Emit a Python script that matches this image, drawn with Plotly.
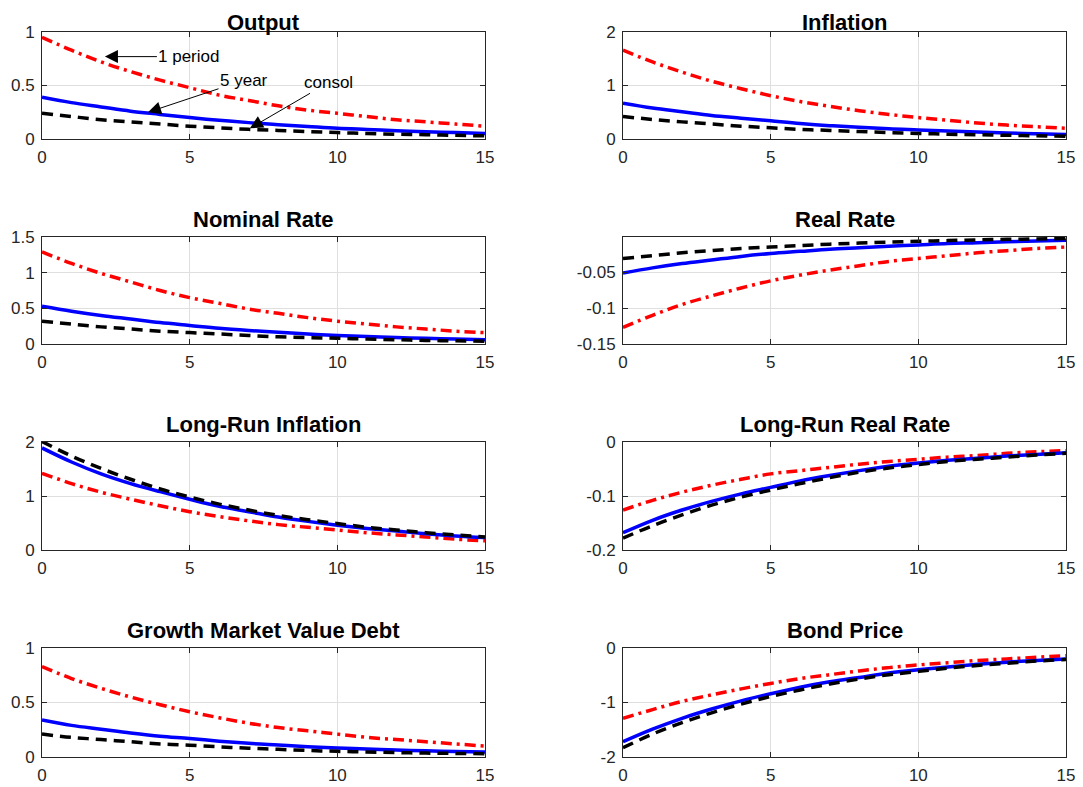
import plotly.graph_objects as go

t = list(range(16))

# Output
output_1p = [0.95, 0.83, 0.72, 0.63, 0.55, 0.48, 0.41, 0.36, 0.31, 0.27, 0.24, 0.21, 0.18, 0.16, 0.14, 0.12]
output_5y = [0.39, 0.34, 0.30, 0.26, 0.23, 0.20, 0.175, 0.153, 0.134, 0.117, 0.10, 0.089, 0.078, 0.068, 0.06, 0.052]
output_cs = [0.24, 0.21, 0.18, 0.16, 0.14, 0.12, 0.105, 0.09, 0.08, 0.07, 0.06, 0.052, 0.045, 0.04, 0.034, 0.03]
# Inflation
infl_1p = [1.66, 1.44, 1.25, 1.08, 0.94, 0.81, 0.70, 0.61, 0.53, 0.46, 0.40, 0.35, 0.30, 0.26, 0.23, 0.20]
infl_5y = [0.67, 0.58, 0.51, 0.44, 0.39, 0.34, 0.29, 0.25, 0.22, 0.19, 0.17, 0.15, 0.13, 0.11, 0.10, 0.085]
infl_cs = [0.42, 0.365, 0.32, 0.28, 0.24, 0.21, 0.18, 0.16, 0.14, 0.12, 0.105, 0.09, 0.08, 0.07, 0.06, 0.053]
# Nominal Rate
nom_1p = [1.29, 1.13, 0.99, 0.87, 0.75, 0.65, 0.57, 0.49, 0.43, 0.37, 0.32, 0.28, 0.24, 0.21, 0.18, 0.16]
nom_5y = [0.53, 0.46, 0.40, 0.35, 0.30, 0.26, 0.22, 0.19, 0.165, 0.14, 0.12, 0.105, 0.09, 0.08, 0.07, 0.06]
nom_cs = [0.32, 0.28, 0.24, 0.21, 0.18, 0.16, 0.14, 0.12, 0.10, 0.09, 0.08, 0.07, 0.06, 0.05, 0.045, 0.04]
# Real Rate
real_1p = [-0.127, -0.110, -0.095, -0.083, -0.072, -0.062, -0.054, -0.047, -0.041, -0.035, -0.031, -0.027, -0.023, -0.020, -0.017, -0.015]
real_5y = [-0.051, -0.044, -0.038, -0.033, -0.028, -0.024, -0.021, -0.018, -0.016, -0.014, -0.012, -0.010, -0.009, -0.0075, -0.0065, -0.0055]
real_cs = [-0.031, -0.027, -0.023, -0.020, -0.017, -0.015, -0.013, -0.011, -0.0095, -0.008, -0.007, -0.006, -0.005, -0.0043, -0.0037, -0.003]
# Long-Run Inflation
lrinf_1p = [1.42, 1.23, 1.07, 0.94, 0.82, 0.71, 0.62, 0.54, 0.47, 0.42, 0.37, 0.32, 0.28, 0.24, 0.20, 0.17]
lrinf_5y = [1.89, 1.63, 1.41, 1.23, 1.08, 0.94, 0.81, 0.71, 0.61, 0.53, 0.46, 0.40, 0.35, 0.30, 0.26, 0.23]
lrinf_cs = [2.01, 1.74, 1.51, 1.31, 1.13, 0.98, 0.85, 0.74, 0.64, 0.56, 0.49, 0.42, 0.37, 0.32, 0.28, 0.24]
# Long-Run Real Rate
lrreal_1p = [-0.126, -0.108, -0.093, -0.080, -0.069, -0.059, -0.053, -0.047, -0.041, -0.036, -0.032, -0.028, -0.025, -0.021, -0.018, -0.016]
lrreal_5y = [-0.168, -0.145, -0.126, -0.110, -0.096, -0.084, -0.072, -0.062, -0.053, -0.045, -0.039, -0.034, -0.030, -0.026, -0.023, -0.020]
lrreal_cs = [-0.178, -0.155, -0.135, -0.117, -0.102, -0.089, -0.077, -0.066, -0.056, -0.048, -0.042, -0.036, -0.032, -0.028, -0.024, -0.021]
# Growth Market Value Debt
gmvd_1p = [0.83, 0.72, 0.63, 0.55, 0.48, 0.415, 0.36, 0.31, 0.27, 0.24, 0.21, 0.18, 0.16, 0.14, 0.12, 0.10]
gmvd_5y = [0.34, 0.29, 0.255, 0.22, 0.19, 0.17, 0.145, 0.125, 0.11, 0.095, 0.083, 0.073, 0.064, 0.057, 0.051, 0.046]
gmvd_cs = [0.21, 0.18, 0.16, 0.14, 0.12, 0.108, 0.093, 0.081, 0.07, 0.06, 0.052, 0.046, 0.04, 0.036, 0.033, 0.03]
# Bond Price
bond_1p = [-1.29, -1.13, -0.98, -0.86, -0.75, -0.65, -0.56, -0.49, -0.42, -0.36, -0.31, -0.27, -0.23, -0.20, -0.17, -0.14]
bond_5y = [-1.72, -1.49, -1.29, -1.12, -0.97, -0.84, -0.72, -0.62, -0.54, -0.46, -0.40, -0.35, -0.30, -0.26, -0.23, -0.20]
bond_cs = [-1.83, -1.58, -1.37, -1.19, -1.03, -0.89, -0.77, -0.66, -0.57, -0.49, -0.43, -0.37, -0.32, -0.28, -0.24, -0.21]

titles = ["Output", "Inflation", "Nominal Rate", "Real Rate", "Long-Run Inflation",
          "Long-Run Real Rate", "Growth Market Value Debt", "Bond Price"]
panels = [
    (output_1p, output_5y, output_cs, [0, 1], [0, 0.5, 1], ["0", "0.5", "1"]),
    (infl_1p, infl_5y, infl_cs, [0, 2], [0, 1, 2], ["0", "1", "2"]),
    (nom_1p, nom_5y, nom_cs, [0, 1.5], [0, 0.5, 1, 1.5], ["0", "0.5", "1", "1.5"]),
    (real_1p, real_5y, real_cs, [-0.15, -0.001], [-0.15, -0.1, -0.05], ["-0.15", "-0.1", "-0.05"]),
    (lrinf_1p, lrinf_5y, lrinf_cs, [0, 2], [0, 1, 2], ["0", "1", "2"]),
    (lrreal_1p, lrreal_5y, lrreal_cs, [-0.2, 0], [-0.2, -0.1, 0], ["-0.2", "-0.1", "0"]),
    (gmvd_1p, gmvd_5y, gmvd_cs, [0, 1], [0, 0.5, 1], ["0", "0.5", "1"]),
    (bond_1p, bond_5y, bond_cs, [-2, 0], [-2, -1, 0], ["-2", "-1", "0"]),
]
x_ticks = [0, 5, 10, 15]
x_ticklabels = ["0", "5", "10", "15"]

# page body has an 8px margin; figure is sized to fill the rest of the window
OFF = 8
W, H = 1083 - OFF, 787 - OFF
col_px = [(42 - OFF, 485 - OFF), (623 - OFF, 1066 - OFF)]
row_px = [(32 - OFF, 139 - OFF), (237 - OFF, 344 - OFF), (442 - OFF, 550 - OFF), (648 - OFF, 757 - OFF)]

FONT = "Liberation Sans, Arial, Helvetica, sans-serif"
AX_COL = "#262626"

fig = go.Figure()
annotations = []
for i, (p1, p5, pc, yr, yt, ytl) in enumerate(panels):
    r, c = divmod(i, 2)
    n = "" if i == 0 else str(i + 1)
    xa, ya = "x" + n, "y" + n
    x0, x1 = col_px[c]
    y0, y1 = row_px[r]
    fig.add_trace(go.Scatter(x=t, y=p1, mode="lines", xaxis=xa, yaxis=ya, line_shape="spline",
                             line=dict(color="#ff0000", width=3.5, dash="11px,5px,3px,5px"), showlegend=False))
    fig.add_trace(go.Scatter(x=t, y=p5, mode="lines", xaxis=xa, yaxis=ya, line_shape="spline",
                             line=dict(color="#0000ff", width=3.5), showlegend=False))
    fig.add_trace(go.Scatter(x=t, y=pc, mode="lines", xaxis=xa, yaxis=ya, line_shape="spline",
                             line=dict(color="#000000", width=3.5, dash="11px,7px"), showlegend=False))
    common = dict(showline=True, linecolor=AX_COL, linewidth=1, mirror="ticks", ticks="inside",
                  ticklen=5, tickcolor=AX_COL, showgrid=True, gridcolor="#dfdfdf", gridwidth=1,
                  zeroline=False, automargin=False,
                  tickfont=dict(family=FONT, size=17, color=AX_COL))
    fig.update_layout(**{
        ("xaxis" + n): dict(domain=[x0 / W, x1 / W], range=[0, 15], tickvals=x_ticks,
                            ticktext=x_ticklabels, anchor=ya, ticklabelstandoff=3, **common),
        ("yaxis" + n): dict(domain=[1 - y1 / H, 1 - y0 / H], range=yr, tickvals=yt,
                            ticktext=ytl, anchor=xa, ticklabelstandoff=3, **common),
    })
    if r == 0:
        title_pos = dict(y=1, yanchor="top", yshift=0)
    else:
        title_pos = dict(y=1 - y0 / H, yanchor="bottom", yshift=3)
    annotations.append(dict(text="<b>" + titles[i] + "</b>", xref="paper", yref="paper",
                            x=(x0 + x1) / 2 / W, xanchor="center", showarrow=False,
                            font=dict(family=FONT, size=22, color="#000000"), **title_pos))

ann_font = dict(family=FONT, size=17, color="#000000")
arrow_style = dict(showarrow=True, arrowhead=2, arrowsize=2.6, arrowwidth=1, arrowcolor="#000000",
                   font=ann_font, xref="x", yref="y")
annotations += [
    dict(text="1 period", x=2.13, y=0.77, ax=84, ay=0, **arrow_style),
    dict(text="5 year", x=3.59, y=0.25, ax=96, ay=-32, **arrow_style),
    dict(text="consol", x=7.04, y=0.10, ax=79, ay=-46, **arrow_style),
]

fig.update_layout(width=W, height=H, margin=dict(l=0, r=0, t=0, b=0, autoexpand=False),
                  plot_bgcolor="#ffffff", paper_bgcolor="#ffffff",
                  annotations=annotations, font=dict(family=FONT))
fig.write_html("out.html")
